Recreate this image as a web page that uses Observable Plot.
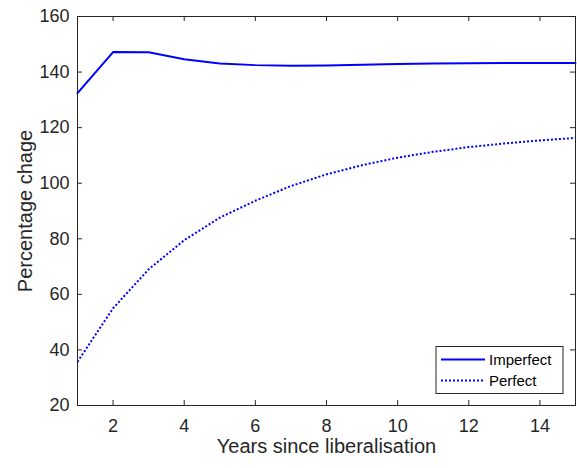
<!DOCTYPE html>
<html>
<head>
<meta charset="utf-8">
<script src="https://cdn.jsdelivr.net/npm/d3@7"></script>
<script src="https://cdn.jsdelivr.net/npm/@observablehq/plot@0.6"></script>
<style>
  html, body { margin: 0; padding: 0; background: #fff; }
  #chart { position: relative; width: 577px; height: 468px; }
</style>
</head>
<body>
<div id="chart"></div>
<script>
const years = [1, 2, 3, 4, 5, 6, 7, 8, 9, 10, 11, 12, 13, 14, 15];
const imperfect = [132.4, 147.2, 147.1, 144.6, 143.1, 142.5, 142.3, 142.4, 142.6, 142.9, 143.1, 143.2, 143.3, 143.3, 143.3];
const perfect = [35.7, 55.0, 69.0, 79.5, 87.6, 93.7, 99.0, 103.2, 106.5, 109.2, 111.3, 113.0, 114.3, 115.4, 116.3];
const seriesNames = ["Imperfect", "Perfect"];
const xTicks = [2, 4, 6, 8, 10, 12, 14];
const yTicks = [20, 40, 60, 80, 100, 120, 140, 160];
const xLabel = "Years since liberalisation";
const yLabel = "Percentage chage";

const axisColor = "#262626";
const blue = "#0000ff";
const dotted = "2,2";

const rowsImp = years.map((x, i) => ({x, y: imperfect[i]}));
const rowsPer = years.map((x, i) => ({x, y: perfect[i]}));

const W = 577, H = 468, mL = 77, mR = 2, mT = 16, mB = 63;
const innerW = W - mL - mR, innerH = H - mT - mB;
const tick = 5;
const font = "'Liberation Sans', Arial, Helvetica, sans-serif";

const chart = Plot.plot({
  width: W, height: H,
  marginLeft: mL, marginRight: mR, marginTop: mT, marginBottom: mB,
  style: {fontFamily: font, color: axisColor, background: "#fff"},
  x: {domain: [1, 15]},
  y: {domain: [20, 160]},
  marks: [
    Plot.axisX(xTicks, {tickSize: 0, tickPadding: 14, fontSize: 18, label: null, fill: axisColor}),
    Plot.axisY(yTicks, {tickSize: 0, tickPadding: 8, fontSize: 18, label: null, fill: axisColor}),
    Plot.ruleX(xTicks, {insetTop: innerH - tick, stroke: axisColor, strokeWidth: 1}),
    Plot.ruleX(xTicks, {insetBottom: innerH - tick, stroke: axisColor, strokeWidth: 1}),
    Plot.ruleY(yTicks, {insetRight: innerW - tick, stroke: axisColor, strokeWidth: 1}),
    Plot.ruleY(yTicks, {insetLeft: innerW - tick, stroke: axisColor, strokeWidth: 1}),
    Plot.line(rowsImp, {x: "x", y: "y", stroke: blue, strokeWidth: 2}),
    Plot.line(rowsPer, {x: "x", y: "y", stroke: blue, strokeWidth: 2, strokeDasharray: dotted, strokeLinecap: "butt"}),
    Plot.frame({stroke: axisColor, strokeWidth: 1}),
    Plot.text([xLabel], {frameAnchor: "bottom", textAnchor: "middle", dy: 47, fontSize: 20, fill: axisColor}),
    Plot.text([yLabel], {frameAnchor: "left", textAnchor: "middle", dx: -52, rotate: -90, fontSize: 20, fill: axisColor})
  ]
});
document.getElementById("chart").appendChild(chart);

// legend inside the axes (bottom-right)
const svg = d3.select(chart);
const lg = svg.append("g").attr("font-family", font);
const lx = 436, ly = 346.5, lw = 127, lh = 47;
lg.append("rect").attr("x", lx).attr("y", ly).attr("width", lw).attr("height", lh)
  .attr("fill", "#fff").attr("stroke", axisColor).attr("stroke-width", 1);
seriesNames.forEach((name, i) => {
  const yy = ly + 13 + i * 21;
  lg.append("line").attr("x1", lx + 5).attr("x2", lx + 49).attr("y1", yy).attr("y2", yy)
    .attr("stroke", blue).attr("stroke-width", 2)
    .attr("stroke-dasharray", i === 1 ? dotted : null);
  lg.append("text").attr("x", lx + 53).attr("y", yy).attr("dy", "0.35em")
    .attr("text-anchor", "start")
    .attr("font-size", 15).attr("fill", "#000").text(name);
});
</script>
</body>
</html>
